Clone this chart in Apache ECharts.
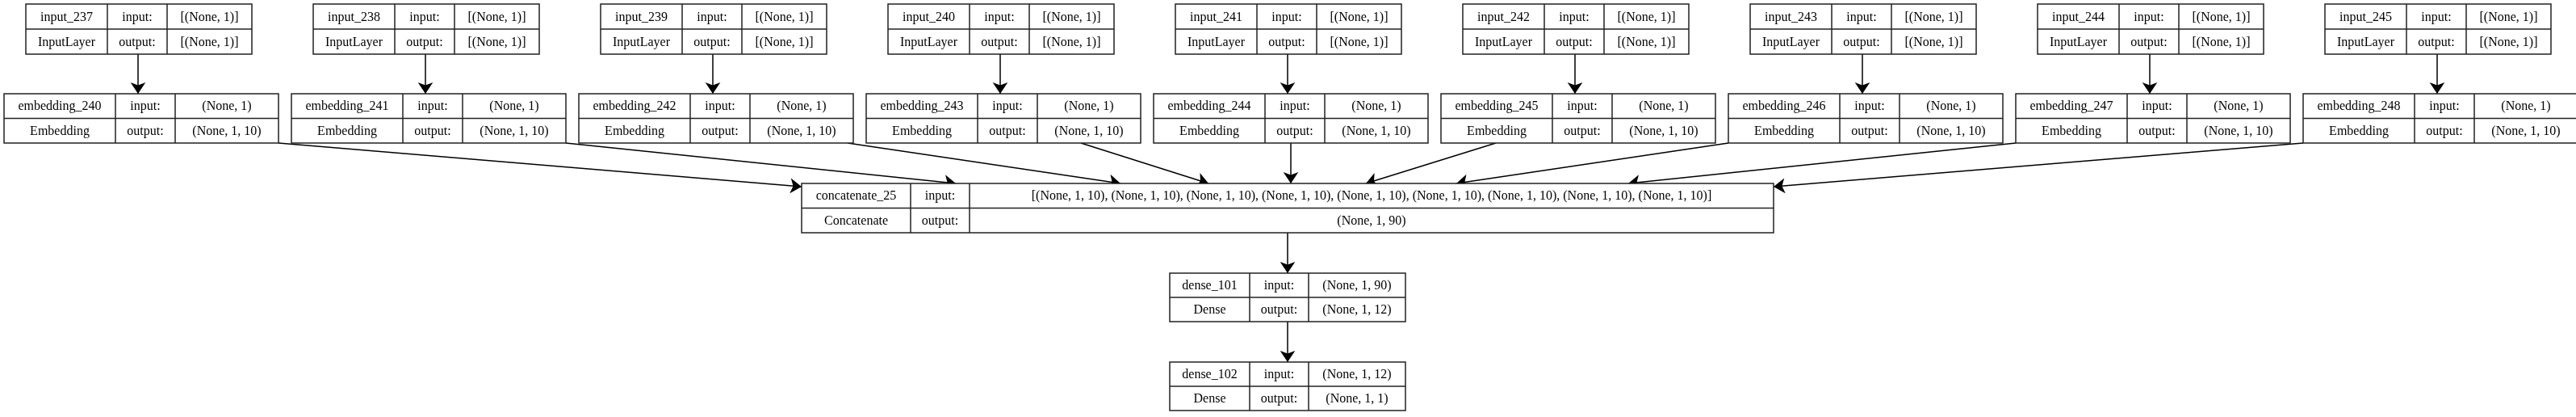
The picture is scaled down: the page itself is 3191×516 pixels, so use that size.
<!DOCTYPE html>
<html>
<head>
<meta charset="utf-8">
<script src="https://cdn.jsdelivr.net/npm/echarts@6/dist/echarts.min.js"></script>
<style>html,body{margin:0;padding:0;background:#fff}#main{width:3191px;height:516px}</style>
</head>
<body>
<div id="main"></div>
<script>
// layer table of the keras model plot
var inputNames = ['input_237','input_238','input_239','input_240','input_241','input_242','input_243','input_244','input_245']
var embNames = ['embedding_240','embedding_241','embedding_242','embedding_243','embedding_244','embedding_245','embedding_246','embedding_247','embedding_248']
var inputShapeIn = '[(None, 1)]'
var inputShapeOut = '[(None, 1)]'
var embShapeIn = '(None, 1)'
var embShapeOut = '(None, 1, 10)'
var concatName = 'concatenate_25'
var concatIn = '[(None, 1, 10), (None, 1, 10), (None, 1, 10), (None, 1, 10), (None, 1, 10), (None, 1, 10), (None, 1, 10), (None, 1, 10), (None, 1, 10)]'
var concatOut = '(None, 1, 90)'
var denseNames = ['dense_101','dense_102']
var denseIn = ['(None, 1, 90)','(None, 1, 12)']
var denseOut = ['(None, 1, 12)','(None, 1, 1)']

var myChart = echarts.init(document.getElementById('main'));

// layout (graphviz-like), computed from index
var step = 356
var nodes = []
for (var i = 0; i < 9; i++) {
    nodes.push({x: 32 + step*i, y: 5, cols: [101, 74, 105], h: 62,
        t: [inputNames[i], 'input:', inputShapeIn, 'InputLayer', 'output:', inputShapeOut]})
    nodes.push({x: 5 + step*i, y: 116, cols: [138, 74, 128], h: 61,
        t: [embNames[i], 'input:', embShapeIn, 'Embedding', 'output:', embShapeOut]})
}
nodes.push({x: 993, y: 227, cols: [135, 73, 996], h: 61,
    t: [concatName, 'input:', concatIn, 'Concatenate', 'output:', concatOut]})
for (var j = 0; j < 2; j++) {
    nodes.push({x: 1449, y: 338 + 110*j, cols: [99, 73, 120], h: 60,
        t: [denseNames[j], 'input:', denseIn[j], 'Dense', 'output:', denseOut[j]]})
}

var edges = []
var embTail = [345, 701, 1050, 1339, 1599, 1853, 2141, 2497, 2853]
var concatHead = [[993,231],[1184,227],[1388,227],[1497,227],[1599,227],[1692,227],[1804,227],[2017,227],[2197,231]]
for (var i = 0; i < 9; i++) {
    var cx = 171 + step*i
    edges.push({coords: [[cx, 67], [cx, 116]]})
    edges.push({coords: [[embTail[i], 177], concatHead[i]]})
}
edges.push({coords: [[1595, 288], [1595, 338]]})
edges.push({coords: [[1595, 398], [1595, 448]]})

function renderItem(params, api) {
    var n = nodes[params.dataIndex]
    var p0 = api.coord([n.x, n.y])
    var W = n.cols[0] + n.cols[1] + n.cols[2]
    var p1 = api.coord([n.x + W, n.y + n.h])
    var sx = (p1[0] - p0[0]) / W, sy = (p1[1] - p0[1]) / n.h
    var line = {stroke: '#222', lineWidth: 1.5, fill: null}
    var ch = []
    ch.push({type: 'rect', shape: {x: p0[0], y: p0[1], width: p1[0]-p0[0], height: p1[1]-p0[1]}, style: {stroke: '#222', lineWidth: 1.5, fill: '#fff'}})
    var my = p0[1] + (p1[1]-p0[1]) / 2
    ch.push({type: 'line', shape: {x1: p0[0], y1: my, x2: p1[0], y2: my}, style: line})
    var xs = [p0[0], p0[0] + n.cols[0]*sx, p0[0] + (n.cols[0]+n.cols[1])*sx, p1[0]]
    ch.push({type: 'line', shape: {x1: xs[1], y1: p0[1], x2: xs[1], y2: p1[1]}, style: line})
    ch.push({type: 'line', shape: {x1: xs[2], y1: p0[1], x2: xs[2], y2: p1[1]}, style: line})
    for (var k = 0; k < 6; k++) {
        var c = k % 3, r = Math.floor(k / 3)
        ch.push({type: 'text', x: (xs[c] + xs[c+1]) / 2, y: p0[1] + (r + 0.5) * (p1[1]-p0[1]) / 2 + 1,
            style: {text: n.t[k], fill: '#000', font: '16px "Liberation Serif"', align: 'center', verticalAlign: 'middle'}})
    }
    return {type: 'group', children: ch}
}

var option = {
    animation: false,
    backgroundColor: '#fff',
    grid: {left: 0, right: 0, top: 0, bottom: 0},
    xAxis: {type: 'value', min: 0, max: 3191, show: false},
    yAxis: {type: 'value', min: 0, max: 516, inverse: true, show: false},
    series: [
        {
            type: 'lines',
            coordinateSystem: 'cartesian2d',
            symbol: ['none', 'arrow'],
            symbolSize: 14,
            lineStyle: {color: '#000', width: 1.5, opacity: 1},
            data: edges,
            z: 1
        },
        {
            type: 'custom',
            renderItem: renderItem,
            data: nodes.map(function (n, i) { return [n.x, n.y, i] }),
            z: 2
        }
    ]
};
myChart.setOption(option)
</script>
</body>
</html>
